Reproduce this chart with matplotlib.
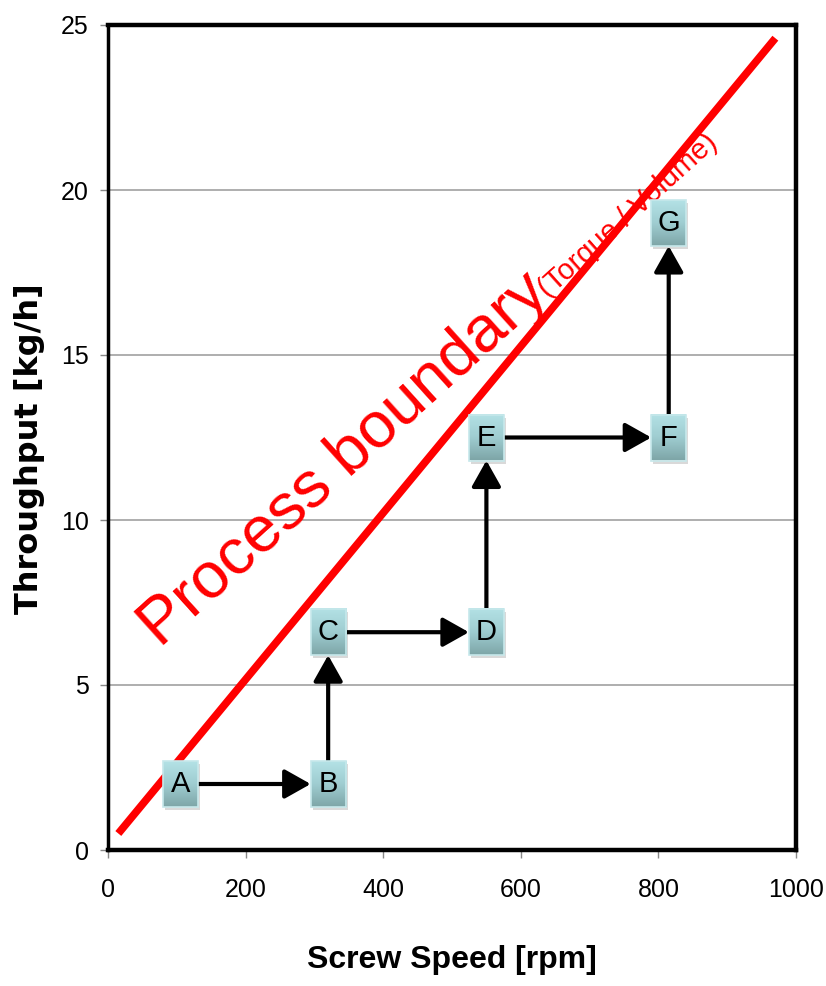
import numpy as np
import matplotlib
matplotlib.use("Agg")
import matplotlib.pyplot as plt
from matplotlib.colors import LinearSegmentedColormap
from matplotlib.patches import Rectangle

# operating points
labels = ["A", "B", "C", "D", "E", "F", "G"]
speed = [105, 320, 320, 550, 550, 815, 815]
throughput = [2.0, 2.0, 6.6, 6.6, 12.5, 12.5, 19.0]

# process boundary line
boundary_x = [15, 970]
boundary_y = [0.5, 24.6]

x_ticks = [0, 200, 400, 600, 800, 1000]
y_ticks = [0, 5, 10, 15, 20, 25]

arial = ["Liberation Sans", "DejaVu Sans"]

fig = plt.figure(figsize=(8.26, 9.86), dpi=100)
ax = fig.add_axes([108 / 826, 136 / 986, 688 / 826, 825 / 986])
ax.set_xlim(0, 1000)
ax.set_ylim(0, 25)

ax.set_xticks(x_ticks)
ax.set_yticks(y_ticks)
ax.set_xticklabels([str(v) for v in x_ticks], family=arial, fontsize=18)
ax.set_yticklabels([str(v) for v in y_ticks], family=arial, fontsize=18)
ax.tick_params(axis="both", direction="out", length=6, width=1, color="#888888")
ax.tick_params(axis="x", pad=14)
ax.tick_params(axis="y", pad=8)

ax.yaxis.grid(True, color="#a8a8a8", linewidth=1.3)
ax.set_axisbelow(True)
for side in ["top", "right", "bottom"]:
    ax.spines[side].set_linewidth(3.2)
ax.spines["left"].set_linewidth(2.5)

ax.set_xlabel("Screw Speed [rpm]", family=arial, fontsize=23, fontweight="bold")
ax.xaxis.set_label_coords(0.5, -0.115)
ax.set_ylabel("Throughput [kg/h]", family=["DejaVu Sans"], fontsize=23, fontweight="bold")
ax.yaxis.set_label_coords(-0.092, 0.486)

# boundary
ax.plot(boundary_x, boundary_y, color="red", linewidth=5.5, solid_capstyle="butt", zorder=3)
ax.text(76, 6.1, "Process boundary", color="red", fontsize=47, family=arial,
        rotation=42, rotation_mode="anchor", ha="left", va="baseline", zorder=4)
ax.text(640, 16.7, "(Torque / Volume)", color="red", fontsize=21, family=arial,
        rotation=42, rotation_mode="anchor", ha="left", va="baseline", zorder=4)

# box size in pixels -> data units
box_w_px, box_h_px = 35, 46
ux = 1000 / 688
uy = 25 / 825
hw = box_w_px / 2 * ux
hh = box_h_px / 2 * uy

cmap = LinearSegmentedColormap.from_list("box", ["#b3e1e5", "#9fcdd1", "#7ea6a8"])
grad = np.linspace(0, 1, 64).reshape(-1, 1)

for name, x, y in zip(labels, speed, throughput):
    ax.add_patch(Rectangle((x - hw + 2 * ux, y - hh - 3 * uy), 2 * hw, 2 * hh,
                           facecolor="black", alpha=0.15, linewidth=0, zorder=5))
    ax.imshow(grad, cmap=cmap, aspect="auto", origin="upper",
              extent=(x - hw, x + hw, y - hh, y + hh), zorder=6)
    ax.add_patch(Rectangle((x - hw, y - hh), 2 * hw, 2 * hh, facecolor="none",
                           edgecolor="#c6e8eb", linewidth=1.2, zorder=7))
    ax.text(x, y, name, ha="center", va="center", fontsize=21, family=arial, zorder=8)

# arrows between consecutive points, from box edge to box edge
for i in range(len(labels) - 1):
    x0, y0 = speed[i], throughput[i]
    x1, y1 = speed[i + 1], throughput[i + 1]
    if y0 == y1:
        shrink = box_w_px / 2 * 0.72
    else:
        shrink = box_h_px / 2 * 0.72
    ax.annotate("", xy=(x1, y1), xytext=(x0, y0),
                arrowprops=dict(arrowstyle="-|>,head_length=0.8,head_width=0.45",
                                mutation_scale=20, color="black", lw=3,
                                shrinkA=shrink, shrinkB=shrink),
                zorder=4)

ax.set_xlim(0, 1000)
ax.set_ylim(0, 25)

fig.savefig("out.png", dpi=100)
